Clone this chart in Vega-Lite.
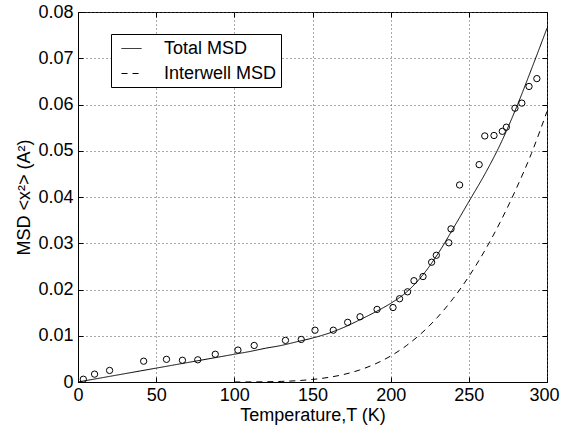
{
  "$schema": "https://vega.github.io/schema/vega-lite/v6.json",
  "width": 469,
  "height": 370,
  "autosize": {"type": "none"},
  "padding": {"left": 78, "top": 12, "right": 14, "bottom": 46},
  "background": "white",
  "config": {
    "view": {"stroke": "#000", "strokeWidth": 1},
    "font": "Liberation Sans",
    "axis": {
      "labelFont": "Liberation Sans",
      "labelFontSize": 18,
      "labelColor": "#000",
      "labelFlush": false,
      "titleFont": "Liberation Sans",
      "titleFontSize": 18,
      "titleFontWeight": "normal",
      "titleColor": "#000",
      "domainColor": "#000",
      "tickColor": "#000",
      "tickSize": -5,
      "gridColor": "#555",
      "gridDash": [1, 3],
      "gridWidth": 1
    },
    "legend": {
      "labelFont": "Liberation Sans",
      "labelFontSize": 18,
      "labelColor": "#000"
    }
  },
  "datasets": {
    "curves": [
      {"T": 0, "msd": 0, "series": "Total MSD"},
      {"T": 10, "msd": 0.0006, "series": "Total MSD"},
      {"T": 20, "msd": 0.0012, "series": "Total MSD"},
      {"T": 30, "msd": 0.0018, "series": "Total MSD"},
      {"T": 40, "msd": 0.0024, "series": "Total MSD"},
      {"T": 50, "msd": 0.0030, "series": "Total MSD"},
      {"T": 60, "msd": 0.0036, "series": "Total MSD"},
      {"T": 70, "msd": 0.0042, "series": "Total MSD"},
      {"T": 80, "msd": 0.0048, "series": "Total MSD"},
      {"T": 90, "msd": 0.0054, "series": "Total MSD"},
      {"T": 100, "msd": 0.0060, "series": "Total MSD"},
      {"T": 110, "msd": 0.0066, "series": "Total MSD"},
      {"T": 120, "msd": 0.0073, "series": "Total MSD"},
      {"T": 130, "msd": 0.0079, "series": "Total MSD"},
      {"T": 140, "msd": 0.0087, "series": "Total MSD"},
      {"T": 150, "msd": 0.0095, "series": "Total MSD"},
      {"T": 160, "msd": 0.0105, "series": "Total MSD"},
      {"T": 170, "msd": 0.0118, "series": "Total MSD"},
      {"T": 180, "msd": 0.0134, "series": "Total MSD"},
      {"T": 190, "msd": 0.0151, "series": "Total MSD"},
      {"T": 200, "msd": 0.0170, "series": "Total MSD"},
      {"T": 210, "msd": 0.0194, "series": "Total MSD"},
      {"T": 220, "msd": 0.0229, "series": "Total MSD"},
      {"T": 230, "msd": 0.0276, "series": "Total MSD"},
      {"T": 240, "msd": 0.0332, "series": "Total MSD"},
      {"T": 250, "msd": 0.0390, "series": "Total MSD"},
      {"T": 260, "msd": 0.0448, "series": "Total MSD"},
      {"T": 270, "msd": 0.0513, "series": "Total MSD"},
      {"T": 280, "msd": 0.0590, "series": "Total MSD"},
      {"T": 290, "msd": 0.0676, "series": "Total MSD"},
      {"T": 300, "msd": 0.0765, "series": "Total MSD"},
      {"T": 100, "msd": 0.0, "series": "Interwell MSD"},
      {"T": 120, "msd": 0.00005, "series": "Interwell MSD"},
      {"T": 130, "msd": 0.00013, "series": "Interwell MSD"},
      {"T": 140, "msd": 0.00028, "series": "Interwell MSD"},
      {"T": 150, "msd": 0.00055, "series": "Interwell MSD"},
      {"T": 160, "msd": 0.00098, "series": "Interwell MSD"},
      {"T": 170, "msd": 0.00163, "series": "Interwell MSD"},
      {"T": 180, "msd": 0.00258, "series": "Interwell MSD"},
      {"T": 190, "msd": 0.00389, "series": "Interwell MSD"},
      {"T": 200, "msd": 0.00562, "series": "Interwell MSD"},
      {"T": 210, "msd": 0.00785, "series": "Interwell MSD"},
      {"T": 220, "msd": 0.01063, "series": "Interwell MSD"},
      {"T": 230, "msd": 0.01401, "series": "Interwell MSD"},
      {"T": 240, "msd": 0.01806, "series": "Interwell MSD"},
      {"T": 250, "msd": 0.02281, "series": "Interwell MSD"},
      {"T": 260, "msd": 0.02829, "series": "Interwell MSD"},
      {"T": 270, "msd": 0.03453, "series": "Interwell MSD"},
      {"T": 280, "msd": 0.04156, "series": "Interwell MSD"},
      {"T": 290, "msd": 0.04938, "series": "Interwell MSD"},
      {"T": 300, "msd": 0.0585, "series": "Interwell MSD"}
    ],
    "points": [
      {"T": 3.4, "msd": 0.0006}, {"T": 10.6, "msd": 0.0017}, {"T": 20.2, "msd": 0.0025},
      {"T": 42, "msd": 0.0045}, {"T": 56.6, "msd": 0.0049}, {"T": 66.8, "msd": 0.0047},
      {"T": 76.6, "msd": 0.0048}, {"T": 87.8, "msd": 0.0060}, {"T": 102.3, "msd": 0.0069},
      {"T": 112.7, "msd": 0.0079}, {"T": 132.7, "msd": 0.0090}, {"T": 142.8, "msd": 0.0092},
      {"T": 151.6, "msd": 0.0112}, {"T": 163.3, "msd": 0.0112}, {"T": 172.5, "msd": 0.0129},
      {"T": 180.4, "msd": 0.0141}, {"T": 191.3, "msd": 0.0157}, {"T": 201.5, "msd": 0.0161},
      {"T": 205.7, "msd": 0.0180}, {"T": 210.8, "msd": 0.0195}, {"T": 214.9, "msd": 0.0219},
      {"T": 220.7, "msd": 0.0228}, {"T": 226.2, "msd": 0.0259}, {"T": 229.2, "msd": 0.0274},
      {"T": 237.2, "msd": 0.0301}, {"T": 238.6, "msd": 0.0331}, {"T": 244.1, "msd": 0.0426},
      {"T": 256.6, "msd": 0.0470}, {"T": 260.2, "msd": 0.0532}, {"T": 266.1, "msd": 0.0533},
      {"T": 271.4, "msd": 0.0542}, {"T": 274, "msd": 0.0551}, {"T": 279.5, "msd": 0.0592},
      {"T": 283.9, "msd": 0.0603}, {"T": 288.5, "msd": 0.0639}, {"T": 293.5, "msd": 0.0656}
    ]
  },
  "layer": [
    {
      "data": {"name": "curves"},
      "mark": {"type": "line", "color": "#000", "strokeWidth": 1, "interpolate": "monotone"},
      "encoding": {
        "x": {
          "field": "T", "type": "quantitative",
          "scale": {"domain": [0, 300], "nice": false},
          "axis": {
            "orient": "bottom",
            "values": [0, 50, 100, 150, 200, 250, 300],
            "title": "Temperature,T (K)",
            "labelPadding": 9,
            "labelFlush": false,
            "labelOffset": {"condition": {"test": "datum.value == 300", "value": -3}, "value": 0},
            "titlePadding": 2,
            "grid": true
          }
        },
        "y": {
          "field": "msd", "type": "quantitative",
          "scale": {"domain": [0, 0.08], "nice": false},
          "axis": {
            "orient": "left",
            "values": [0, 0.01, 0.02, 0.03, 0.04, 0.05, 0.06, 0.07, 0.08],
            "labelExpr": "datum.value == 0 ? '0' : format(datum.value, '.2f')",
            "title": "MSD <x²> (A²)",
            "labelPadding": 10,
            "labelFlush": false,
            "titlePadding": 4,
            "grid": true
          }
        },
        "detail": {"field": "series"},
        "strokeDash": {
          "field": "series", "type": "nominal",
          "scale": {"domain": ["Total MSD", "Interwell MSD"], "range": [[1, 0], [6, 5]]},
          "legend": {
            "title": null,
            "orient": "none",
            "legendX": 33,
            "legendY": 22,
            "strokeColor": "#000",
            "fillColor": "#fff",
            "padding": 4,
            "symbolType": "stroke",
            "symbolSize": 400,
            "symbolStrokeColor": "#000",
            "symbolStrokeWidth": 1,
            "symbolOffset": 6,
            "labelOffset": 22,
            "rowPadding": 5
          }
        }
      }
    },
    {
      "data": {"name": "points"},
      "mark": {"type": "point", "shape": "circle", "filled": false, "color": "#000", "strokeWidth": 1, "size": 40, "opacity": 1},
      "encoding": {
        "x": {
          "field": "T", "type": "quantitative",
          "axis": {
            "orient": "top",
            "values": [0, 50, 100, 150, 200, 250, 300],
            "labels": false, "title": null, "grid": false, "domain": false
          }
        },
        "y": {
          "field": "msd", "type": "quantitative",
          "axis": {
            "orient": "right",
            "values": [0, 0.01, 0.02, 0.03, 0.04, 0.05, 0.06, 0.07, 0.08],
            "labels": false, "title": null, "grid": false, "domain": false
          }
        }
      }
    }
  ],
  "resolve": {"axis": {"x": "independent", "y": "independent"}}
}
